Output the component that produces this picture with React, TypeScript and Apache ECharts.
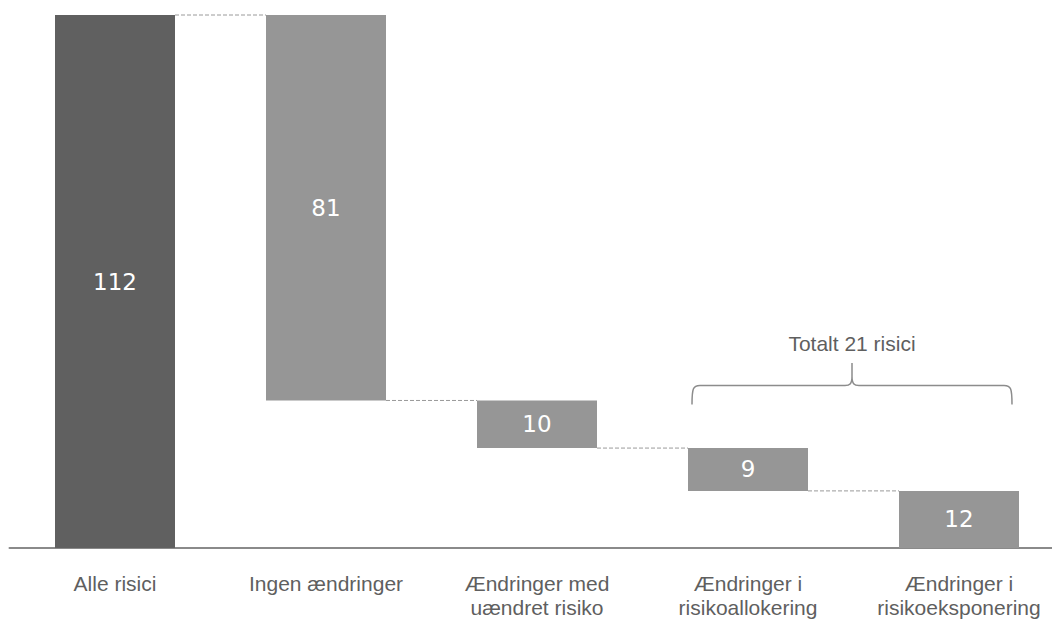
import React, { useEffect, useRef } from "react";
import * as echarts from "echarts";

const categories = [
  "Alle risici",
  "Ingen ændringer",
  "Ændringer med\nuændret risiko",
  "Ændringer i\nrisikoallokering",
  "Ændringer i\nrisikoeksponering",
];
const values = [112, 81, 10, 9, 12];
const isTotal = [true, false, false, false, false];
const braceLabel = "Totalt 21 risici";
const braceFrom = 3;
const braceTo = 4;

const DARK = "#606060";
const LIGHT = "#969696";
const TEXT = "#5f5f5f";
const BAR_W = 120;

export default function App() {
  const ref = useRef<HTMLDivElement>(null);
  useEffect(() => {
    if (!ref.current) return;
    const chart = echarts.init(ref.current, null, { renderer: "svg" });

    // waterfall bases
    const bases: number[] = [];
    let running = 0;
    values.forEach((v, i) => {
      if (isTotal[i]) {
        bases.push(0);
        running = v;
      } else {
        running -= v;
        bases.push(running);
      }
    });
    const connectors = values.slice(0, -1).map((_, i) => [i, bases[i + 1] + values[i + 1]]);

    chart.setOption({
      animation: false,
      grid: { left: 9.5, right: 2.5, top: 15, bottom: 68 },
      xAxis: {
        type: "category",
        data: categories,
        axisLine: { lineStyle: { color: "#8a8a8a", width: 2 } },
        axisTick: { show: false },
        axisLabel: {
          interval: 0,
          color: TEXT,
          fontFamily: "Liberation Sans",
          fontSize: 21,
          lineHeight: 24,
          margin: 23,
        },
      },
      yAxis: { type: "value", min: 0, max: values[0], show: false, splitLine: { show: false } },
      series: [
        {
          type: "bar",
          stack: "w",
          barWidth: BAR_W,
          itemStyle: { color: "transparent" },
          data: bases,
          silent: true,
        },
        {
          type: "bar",
          stack: "w",
          barWidth: BAR_W,
          data: values.map((v, i) => ({ value: v, itemStyle: { color: isTotal[i] ? DARK : LIGHT } })),
          label: {
            show: true,
            position: "inside",
            color: "#ffffff",
            fontFamily: "DejaVu Sans",
            fontSize: 23,
          },
        },
        {
          type: "custom",
          data: connectors,
          renderItem: (params: any, api: any) => {
            const i = api.value(0);
            const lvl = api.value(1);
            const p1 = api.coord([i, lvl]);
            const p2 = api.coord([i + 1, lvl]);
            return {
              type: "line",
              shape: { x1: p1[0] + BAR_W / 2, y1: p1[1], x2: p2[0] - BAR_W / 2, y2: p2[1] },
              style: { stroke: "#9a9a9a", lineWidth: 1, lineDash: [4, 2] },
            };
          },
        },
      ],
    });

    // brace annotation
    const xa = chart.convertToPixel({ xAxisIndex: 0 }, braceFrom) as number;
    const xb = chart.convertToPixel({ xAxisIndex: 0 }, braceTo) as number;
    const topLevel = Math.max(...[braceFrom, braceTo].map((i) => bases[i] + values[i]));
    const yTop = chart.convertToPixel({ yAxisIndex: 0 }, topLevel) as number;
    const L = xa - BAR_W / 2 + 4;
    const R = xb + BAR_W / 2 - 7;
    const M = (L + R) / 2;
    const yH = yTop - 62.5;
    const yTip = yH + 19;
    const yPeak = yH - 22.5;
    const d =
      `M ${L} ${yTip} C ${L} ${yH + 3} ${L + 1} ${yH} ${L + 8} ${yH} L ${M - 7} ${yH} ` +
      `C ${M - 2} ${yH} ${M} ${yH - 2} ${M} ${yH - 9} L ${M} ${yPeak} ` +
      `M ${M} ${yH - 9} C ${M} ${yH - 2} ${M + 2} ${yH} ${M + 7} ${yH} L ${R - 8} ${yH} ` +
      `C ${R - 1} ${yH} ${R} ${yH + 3} ${R} ${yTip}`;
    echarts.graphic.registerShape("brace", (echarts.graphic as any).extendPath(d, {}));

    chart.setOption({
      graphic: [
        {
          type: "brace",
          x: 0,
          y: 0,
          style: { stroke: "#8c8c8c", lineWidth: 1.5, fill: "none" },
        },
        {
          type: "text",
          x: M,
          y: yPeak - 20,
          style: {
            text: braceLabel,
            align: "center",
            verticalAlign: "middle",
            font: "21px 'Liberation Sans'",
            fill: TEXT,
          },
        },
      ],
    });

    return () => chart.dispose();
  }, []);
  return (
    <div
      style={{
        position: "absolute",
        left: 0,
        top: 0,
        width: 1052,
        height: 619,
        overflow: "hidden",
        background: "#fff",
      }}
    >
      <div ref={ref} style={{ position: "absolute", left: 0, top: 0, width: 1067, height: 619 }} />
    </div>
  );
}
